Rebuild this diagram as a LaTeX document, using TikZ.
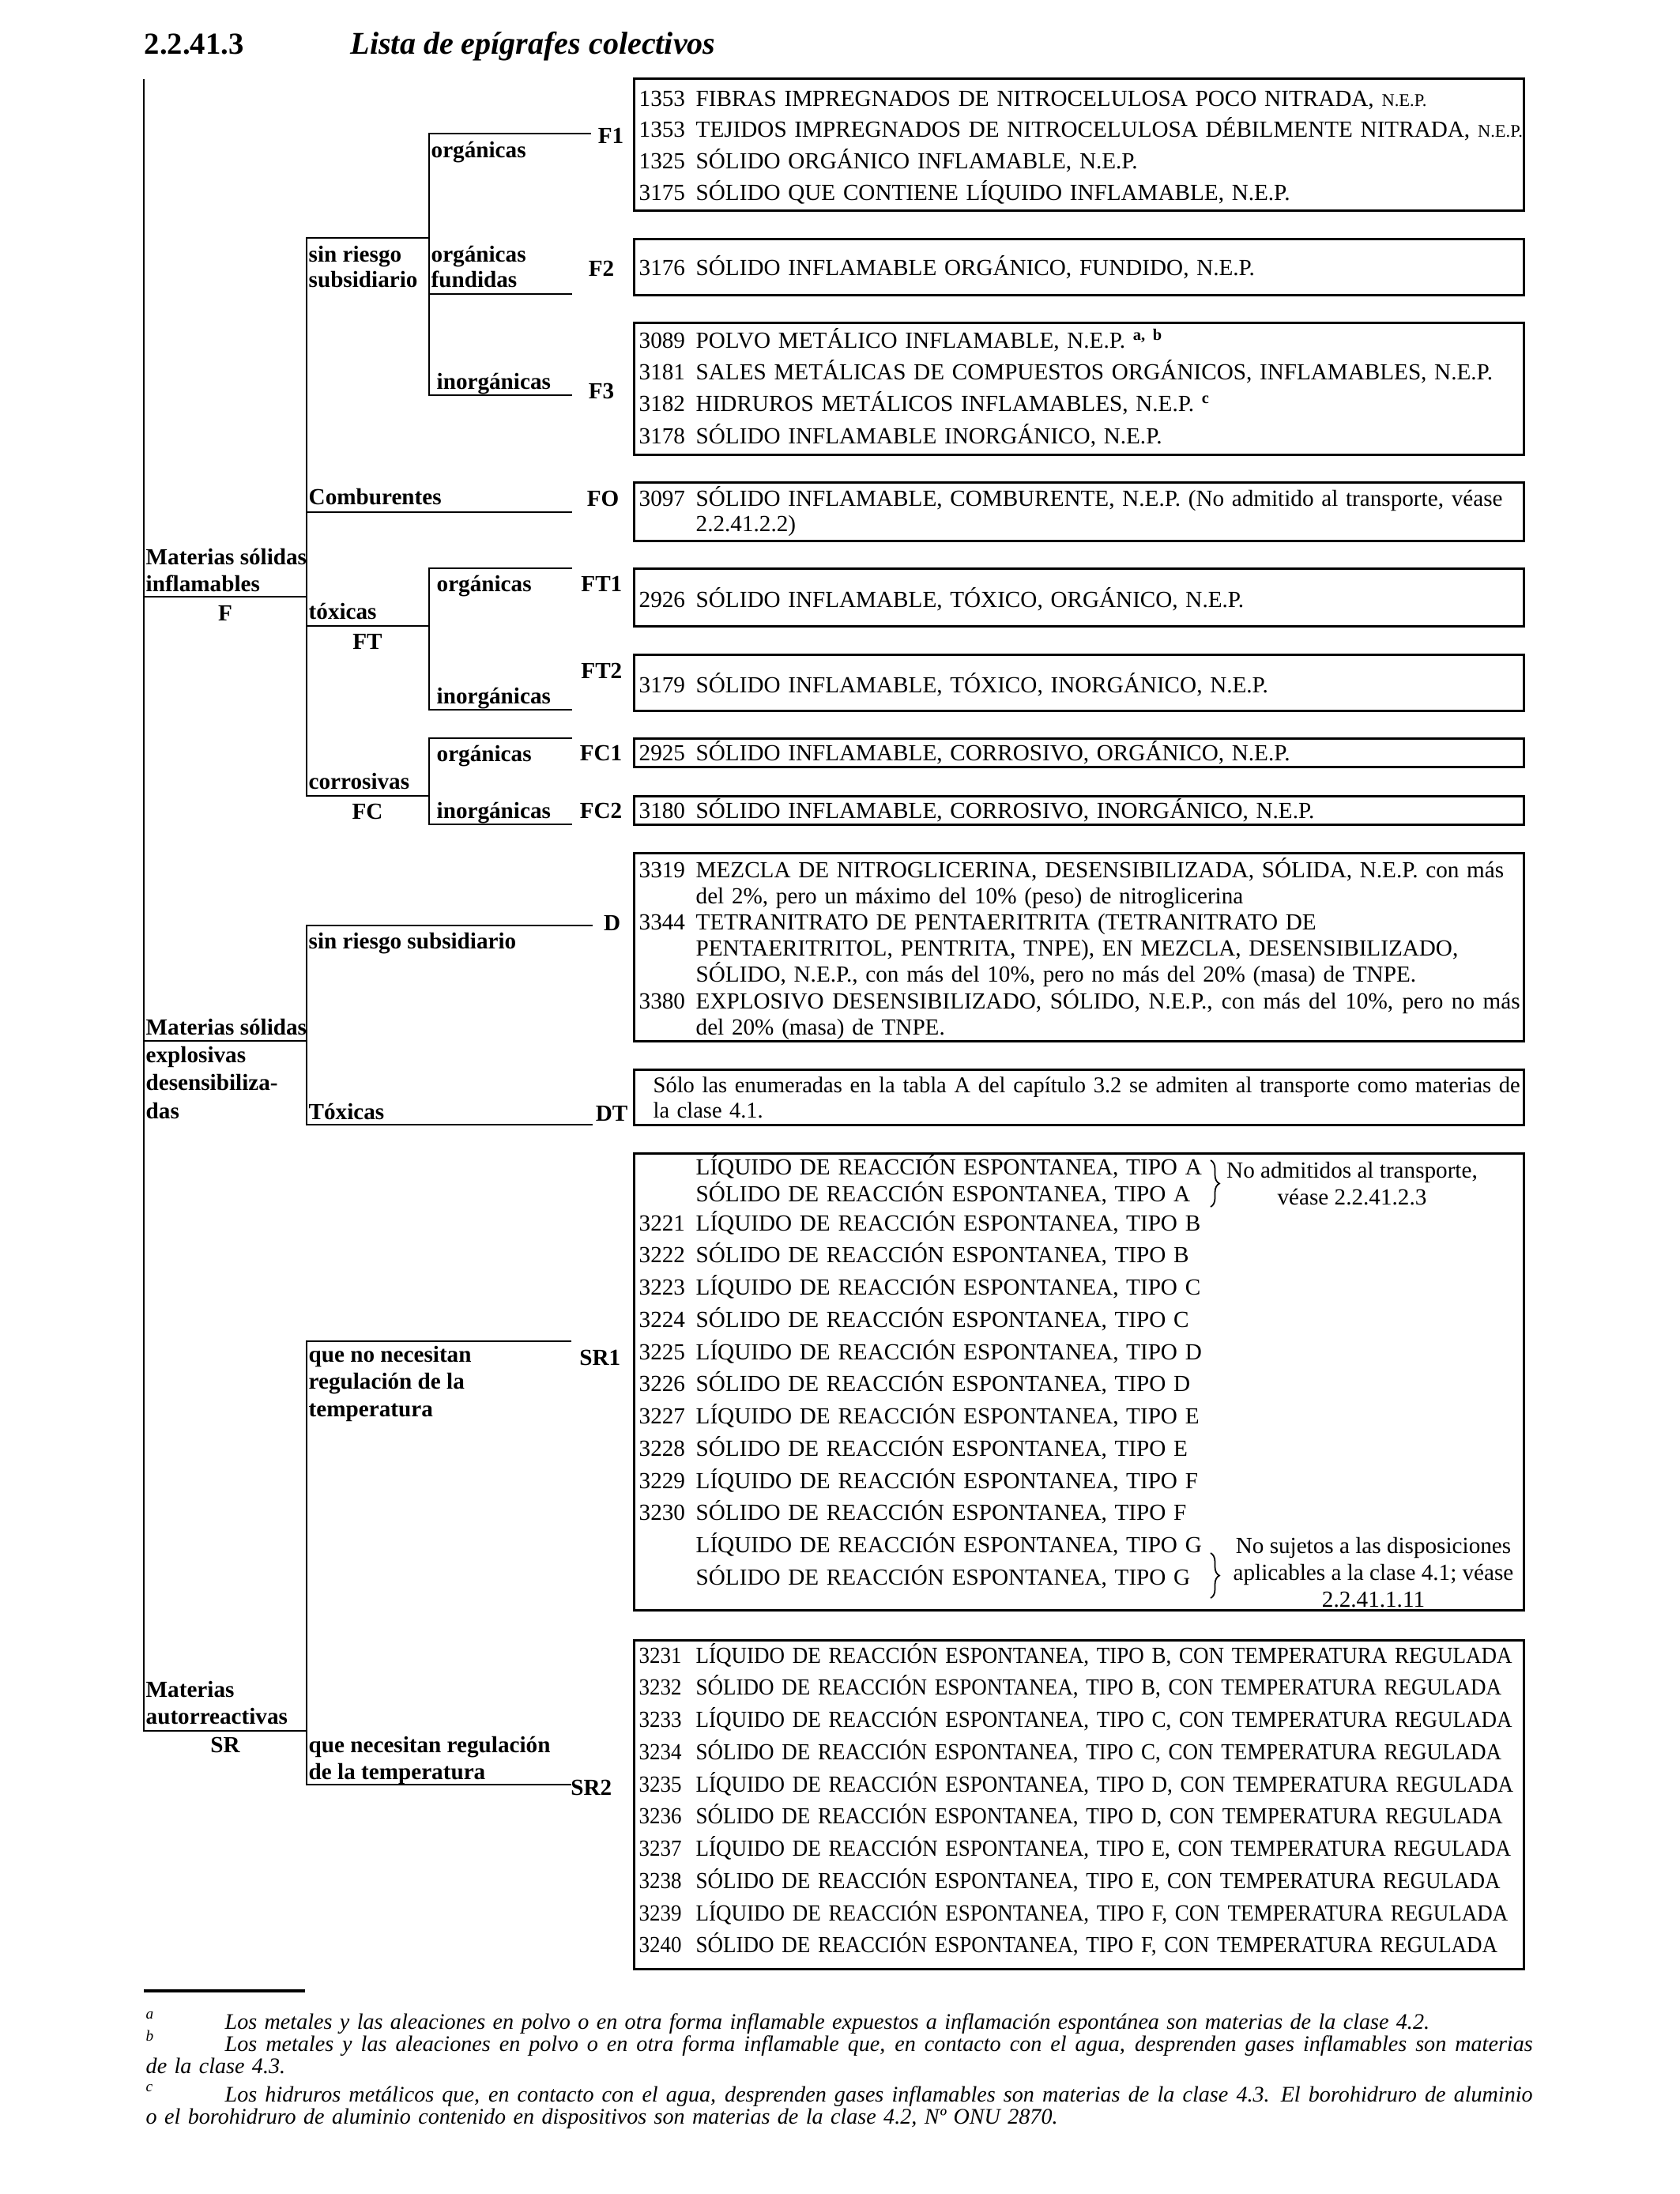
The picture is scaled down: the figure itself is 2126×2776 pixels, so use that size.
\documentclass[tikz,border=0pt]{standalone}
\usepackage{fontspec}
\setmainfont{Liberation Serif}
\newfontfamily\condserif[FakeStretch=0.926]{Liberation Serif}
\usetikzlibrary{decorations.pathreplacing}
\newcommand{\onu}[1]{\makebox[7.2mm][l]{#1}}
\newcommand{\cont}{\hspace*{7.2mm}}
\newcommand{\nepsmall}{{\fontsize{6.4}{7}\selectfont N.E.P.}}
\newcommand{\fnmark}[1]{\makebox[10mm][l]{\raisebox{1.3mm}{\fontsize{5.5}{6}\selectfont #1}}}
\newcommand{\fullline}[2]{\makebox[#1][s]{\spaceskip=0pt\relax #2}}
\tikzset{
  tree/.style={line width=0.7pt},
  boxline/.style={line width=0.85pt},
  lab/.style={inner sep=0pt, anchor=base west, align=left, font=\bfseries\fontsize{8.3}{9.4}\selectfont},
  code/.style={inner sep=0pt, anchor=base east, font=\bfseries\fontsize{8.3}{10}\selectfont},
  entries/.style={inner sep=0pt, anchor=base west, text width=125mm, align=left, font=\fontsize{8.3}{11.5}\selectfont},
  aside/.style={inner sep=0pt, anchor=north, align=center, font=\fontsize{8.3}{9.6}\selectfont},
  fnote/.style={inner sep=0pt, anchor=base west, text width=185mm, align=left, font=\itshape\fontsize{8.0}{8.2}\selectfont},
  curly/.style={decorate, decoration={brace, amplitude=1.1mm}, line width=0.5pt}
}
\begin{document}
\begin{tikzpicture}[x=0.1mm, y=-0.1mm]
\useasboundingbox (0,0) rectangle (2126,2776);
% heading
\node[inner sep=0pt, anchor=base west, font=\bfseries\fontsize{11}{13}\selectfont] (secnum) at (182,68) {2.2.41.3};
\node[inner sep=0pt, anchor=base west, font=\bfseries\itshape\fontsize{11.4}{13}\selectfont] (sectitle) at (443,68) {Lista de epígrafes colectivos};

% branch points
\coordinate (top) at (182,100);
\coordinate (fj) at (388,755);
\coordinate (fsin) at (543,301);
\coordinate (f1) at (748,169);
\coordinate (f2) at (724,372);
\coordinate (f3) at (724,500);
\coordinate (fo) at (724,648);
\coordinate (ft) at (543,792);
\coordinate (ft1) at (724,719);
\coordinate (ft2) at (724,898);
\coordinate (fc) at (543,1007);
\coordinate (fc1) at (724,934);
\coordinate (fc2) at (724,1043);
\coordinate (dj) at (388,1317);
\coordinate (dd) at (750,1171);
\coordinate (dt) at (750,1423);
\coordinate (srj) at (388,2190);
\coordinate (sr1) at (723,1697);
\coordinate (sr2) at (723,2258);

% tree
\draw[tree] (top) |- (srj);
\draw[tree] (fj -| top) -- (fj);
\draw[tree] (fsin) -- (fsin -| fj) -- (fc -| fj) -- (fc);
\draw[tree] (fj |- fo) -- (fo);
\draw[tree] (fj |- ft) -- (ft);
\draw[tree] (f1) -| (fsin) |- (f3);
\draw[tree] (fsin |- f2) -- (f2);
\draw[tree] (ft1) -| (ft) |- (ft2);
\draw[tree] (fc1) -| (fc) |- (fc2);
\draw[tree] (dj -| top) -- (dj);
\draw[tree] (dd) -| (dj) |- (dt);
\draw[tree] (sr1) -| (srj) |- (sr2);

% branch labels (multi-line ones sit on their last line)
\node[lab] (lorg1) at (545,199) {orgánicas};
\node[lab, font=\bfseries\fontsize{8.3}{9.1}\selectfont] (lsin) at (390,363) {sin riesgo\\subsidiario};
\node[lab, font=\bfseries\fontsize{8.3}{9.1}\selectfont] (lorgf) at (545,363) {orgánicas\\fundidas};
\node[lab] (linorg1) at (552,492) {inorgánicas};
\node[lab] (lcomb) at (390,638) {Comburentes};
\node[lab] (lmsi) at (184,748) {Materias sólidas\\inflamables};
\node[lab, anchor=base] (lF) at (285,785) {F};
\node[lab] (ltox) at (390,783) {tóxicas};
\node[lab, anchor=base] (lFT) at (465,821) {FT};
\node[lab] (lorg2) at (552,748) {orgánicas};
\node[lab] (linorg2) at (552,890) {inorgánicas};
\node[lab] (lorg3) at (552,963) {orgánicas};
\node[lab] (lcorr) at (390,998) {corrosivas};
\node[lab, anchor=base] (lFC) at (465,1036) {FC};
\node[lab] (linorg3) at (552,1035) {inorgánicas};
\node[lab] (lsin2) at (390,1200) {sin riesgo subsidiario};
\node[lab, font=\bfseries\fontsize{8.3}{10}\selectfont] (lmse) at (184,1415) {Materias sólidas\\explosivas\\desensibiliza-\\das};
\node[lab] (ltox2) at (390,1416) {Tóxicas};
\node[lab, font=\bfseries\fontsize{8.3}{9.7}\selectfont] (lqno) at (390,1792) {que no necesitan\\regulación de la\\temperatura};
\node[lab] (lmar) at (184,2181) {Materias\\autorreactivas};
\node[lab, anchor=base] (lSR) at (285,2217) {SR};
\node[lab] (lqsi) at (390,2251) {que necesitan regulación\\de la temperatura};

% codes
\node[code] (cF1) at (790,181) {F1};
\node[code] (cF2) at (778,349) {F2};
\node[code] (cF3) at (778,504) {F3};
\node[code] (cFO) at (784,640) {FO};
\node[code] (cFT1) at (788,748) {FT1};
\node[code] (cFT2) at (788,858) {FT2};
\node[code] (cFC1) at (788,962) {FC1};
\node[code] (cFC2) at (788,1035) {FC2};
\node[code] (cD) at (786,1177) {D};
\node[code] (cDT) at (795,1418) {DT};
\node[code] (cSR1) at (786,1727) {SR1};
\node[code] (cSR2) at (775,2271) {SR2};

% boxes
\draw[boxline] (802,99) rectangle (1928,266);
\draw[boxline] (802,302) rectangle (1928,373);
\draw[boxline] (802,408) rectangle (1928,575);
\draw[boxline] (802,610) rectangle (1928,684);
\draw[boxline] (802,719) rectangle (1928,792);
\draw[boxline] (802,828) rectangle (1928,899);
\draw[boxline] (802,934) rectangle (1928,970);
\draw[boxline] (802,1007) rectangle (1928,1043);
\draw[boxline] (802,1079) rectangle (1928,1317);
\draw[boxline] (802,1353) rectangle (1928,1423);
\draw[boxline] (802,1459) rectangle (1928,2037);
\draw[boxline] (802,2075) rectangle (1928,2491);

% entries
\node[entries, font=\fontsize{8.3}{11.3}\selectfont] (eF1) at (808,134) {\onu{1353}FIBRAS IMPREGNADOS DE NITROCELULOSA POCO NITRADA, \nepsmall\\
\onu{1353}TEJIDOS IMPREGNADOS DE NITROCELULOSA DÉBILMENTE NITRADA, \nepsmall\\
\onu{1325}SÓLIDO ORGÁNICO INFLAMABLE, N.E.P.\\
\onu{3175}SÓLIDO QUE CONTIENE LÍQUIDO INFLAMABLE, N.E.P.};
\node[entries] (eF2) at (808,348) {\onu{3176}SÓLIDO INFLAMABLE ORGÁNICO, FUNDIDO, N.E.P.};
\node[entries] (eF3) at (808,440) {\onu{3089}POLVO METÁLICO INFLAMABLE, N.E.P. \textsuperscript{\bfseries a, b}\\
\onu{3181}SALES METÁLICAS DE COMPUESTOS ORGÁNICOS, INFLAMABLES, N.E.P.\\
\onu{3182}HIDRUROS METÁLICOS INFLAMABLES, N.E.P. \textsuperscript{\bfseries c}\\
\onu{3178}SÓLIDO INFLAMABLE INORGÁNICO, N.E.P.};
\node[entries, font=\fontsize{8.3}{9.1}\selectfont] (eFO) at (808,640) {\onu{3097}SÓLIDO INFLAMABLE, COMBURENTE, N.E.P. (No admitido al transporte, véase\\
\cont 2.2.41.2.2)};
\node[entries] (eFT1) at (808,768) {\onu{2926}SÓLIDO INFLAMABLE, TÓXICO, ORGÁNICO, N.E.P.};
\node[entries] (eFT2) at (808,876) {\onu{3179}SÓLIDO INFLAMABLE, TÓXICO, INORGÁNICO, N.E.P.};
\node[entries] (eFC1) at (808,962) {\onu{2925}SÓLIDO INFLAMABLE, CORROSIVO, ORGÁNICO, N.E.P.};
\node[entries] (eFC2) at (808,1035) {\onu{3180}SÓLIDO INFLAMABLE, CORROSIVO, INORGÁNICO, N.E.P.};
\node[entries, font=\fontsize{8.3}{9.45}\selectfont] (eD) at (808,1110) {\onu{3319}MEZCLA DE NITROGLICERINA, DESENSIBILIZADA, SÓLIDA, N.E.P. con más\\
\cont del 2\%, pero un máximo del 10\% (peso) de nitroglicerina\\
\onu{3344}TETRANITRATO DE PENTAERITRITA (TETRANITRATO DE\\
\cont PENTAERITRITOL, PENTRITA, TNPE), EN MEZCLA, DESENSIBILIZADO,\\
\cont SÓLIDO, N.E.P., con más del 10\%, pero no más del 20\% (masa) de TNPE.\\
\fullline{111.5mm}{\onu{3380}EXPLOSIVO DESENSIBILIZADO, SÓLIDO, N.E.P., con más del 10\%, pero no más}\\
\cont del 20\% (masa) de TNPE.};
\node[entries, font=\fontsize{8.1}{9.1}\selectfont] (eDT) at (826,1382) {\fullline{109.7mm}{Sólo las enumeradas en la tabla A del capítulo 3.2 se admiten al transporte como materias de}\\
la clase 4.1.};
\node[entries, font=\fontsize{8.3}{11.6}\selectfont] (eSR1) at (808,1486) {\cont LÍQUIDO DE REACCIÓN ESPONTANEA, TIPO A\\[-1.9pt]
\cont SÓLIDO DE REACCIÓN ESPONTANEA, TIPO A\\[-1.1pt]
\onu{3221}LÍQUIDO DE REACCIÓN ESPONTANEA, TIPO B\\
\onu{3222}SÓLIDO DE REACCIÓN ESPONTANEA, TIPO B\\
\onu{3223}LÍQUIDO DE REACCIÓN ESPONTANEA, TIPO C\\
\onu{3224}SÓLIDO DE REACCIÓN ESPONTANEA, TIPO C\\
\onu{3225}LÍQUIDO DE REACCIÓN ESPONTANEA, TIPO D\\
\onu{3226}SÓLIDO DE REACCIÓN ESPONTANEA, TIPO D\\
\onu{3227}LÍQUIDO DE REACCIÓN ESPONTANEA, TIPO E\\
\onu{3228}SÓLIDO DE REACCIÓN ESPONTANEA, TIPO E\\
\onu{3229}LÍQUIDO DE REACCIÓN ESPONTANEA, TIPO F\\
\onu{3230}SÓLIDO DE REACCIÓN ESPONTANEA, TIPO F\\
\cont LÍQUIDO DE REACCIÓN ESPONTANEA, TIPO G\\
\cont SÓLIDO DE REACCIÓN ESPONTANEA, TIPO G};
\draw[curly] (1532,1468) -- (1532,1527);
\node[aside] (nA) at (1711,1470) {No admitidos al transporte,\\véase 2.2.41.2.3};
\draw[curly] (1532,1965) -- (1532,2022);
\node[aside] (nG) at (1738,1945) {No sujetos a las disposiciones\\aplicables a la clase 4.1; véase\\2.2.41.1.11};
\node[entries, font=\condserif\fontsize{8.3}{11.6}\selectfont] (eSR2) at (808,2104) {\onu{3231}LÍQUIDO DE REACCIÓN ESPONTANEA, TIPO B, CON TEMPERATURA REGULADA\\
\onu{3232}SÓLIDO DE REACCIÓN ESPONTANEA, TIPO B, CON TEMPERATURA REGULADA\\
\onu{3233}LÍQUIDO DE REACCIÓN ESPONTANEA, TIPO C, CON TEMPERATURA REGULADA\\
\onu{3234}SÓLIDO DE REACCIÓN ESPONTANEA, TIPO C, CON TEMPERATURA REGULADA\\
\onu{3235}LÍQUIDO DE REACCIÓN ESPONTANEA, TIPO D, CON TEMPERATURA REGULADA\\
\onu{3236}SÓLIDO DE REACCIÓN ESPONTANEA, TIPO D, CON TEMPERATURA REGULADA\\
\onu{3237}LÍQUIDO DE REACCIÓN ESPONTANEA, TIPO E, CON TEMPERATURA REGULADA\\
\onu{3238}SÓLIDO DE REACCIÓN ESPONTANEA, TIPO E, CON TEMPERATURA REGULADA\\
\onu{3239}LÍQUIDO DE REACCIÓN ESPONTANEA, TIPO F, CON TEMPERATURA REGULADA\\
\onu{3240}SÓLIDO DE REACCIÓN ESPONTANEA, TIPO F, CON TEMPERATURA REGULADA};

% footnotes
\coordinate (rulea) at (182,2519);
\coordinate (ruleb) at (386,2519);
\draw[line width=1pt] (rulea) -- (ruleb);
\node[fnote] (fna) at (184,2567) {\fnmark{a}Los metales y las aleaciones en polvo o en otra forma inflamable expuestos a inflamación espontánea son materias de la clase 4.2.};
\node[fnote] (fnb) at (184,2595) {\fullline{175.5mm}{\fnmark{b}Los metales y las aleaciones en polvo o en otra forma inflamable que, en contacto con el agua, desprenden gases inflamables son materias}\\
de la clase 4.3.};
\node[fnote] (fnc) at (184,2659) {\fullline{175.5mm}{\fnmark{c}Los hidruros metálicos que, en contacto con el agua, desprenden gases inflamables son materias de la clase 4.3. El borohidruro de aluminio}\\
o el borohidruro de aluminio contenido en dispositivos son materias de la clase 4.2, Nº ONU 2870.};
\end{tikzpicture}
\end{document}
